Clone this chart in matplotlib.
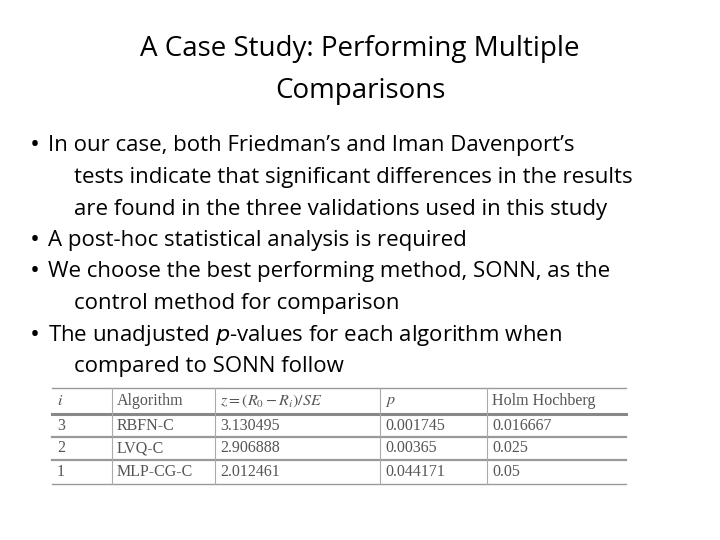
import matplotlib
matplotlib.use("Agg")
import matplotlib.pyplot as plt

title_lines = ["A Case Study: Performing Multiple", "Comparisons"]
bullets = [
    ["In our case, both Friedman\u2019s and Iman Davenport\u2019s",
     "tests indicate that significant differences in the results",
     "are found in the three validations used in this study"],
    ["A post-hoc statistical analysis is required"],
    ["We choose the best performing method, SONN, as the",
     "control method for comparison"],
    ["The unadjusted $\\it{p}$-values for each algorithm when",
     "compared to SONN follow"],
]
headers = ["$i$", "Algorithm", "$z=(R_0-R_i)/SE$", "$p$", "Holm Hochberg"]
col_i = ["3", "2", "1"]
col_alg = ["RBFN-C", "LVQ-C", "MLP-CG-C"]
col_z = ["3.130495", "2.906888", "2.012461"]
col_p = ["0.001745", "0.00365", "0.044171"]
col_holm = ["0.016667", "0.025", "0.05"]

fig = plt.figure(figsize=(7.2, 5.4), dpi=100)
ax = fig.add_axes([0, 0, 1, 1])
ax.set_xlim(0, 720); ax.set_ylim(540, 0); ax.axis("off")

sans = ["Open Sans", "DejaVu Sans"]
for k, t in enumerate(title_lines):
    ax.text(360, 49 + 42 * k, t, ha="center", va="center", fontsize=20, family=sans)

y = 146
for b in bullets:
    ax.text(30, y, "\u2022", ha="left", va="center", fontsize=19, family=sans)
    for j, line in enumerate(b):
        ax.text(48 if j == 0 else 74, y, line, ha="left", va="center", fontsize=16, family=sans)
        y += 31.5

# table
xs = [52, 112, 215, 380, 487, 626]
ys = [388, 414, 437, 460, 484]
gray = "#555555"
ax.plot([xs[0], xs[-1]], [ys[0], ys[0]], color="#999999", lw=1)
ax.plot([xs[0], xs[-1]], [ys[1], ys[1]], color="#888888", lw=2.2)
for yy in ys[2:4]:
    ax.plot([xs[0], xs[-1]], [yy, yy], color="#999999", lw=1.6)
ax.plot([xs[0], xs[-1]], [ys[-1], ys[-1]], color="#999999", lw=1)
for xx in xs[1:-1]:
    ax.plot([xx, xx], [ys[0], ys[-1]], color="#aaaaaa", lw=0.8)
plt.rcParams["mathtext.fontset"] = "stix"
serif = ["Liberation Serif", "DejaVu Serif"]
cols = [col_i, col_alg, col_z, col_p, col_holm]
for c, h in enumerate(headers):
    ax.text(xs[c] + 5, (ys[0] + ys[1]) / 2, h, ha="left", va="center", fontsize=11.5,
            family=serif, color=gray)
    for r, v in enumerate(cols[c]):
        ax.text(xs[c] + 5, (ys[r + 1] + ys[r + 2]) / 2, v, ha="left", va="center",
                fontsize=11.5, family=serif, color=gray)

fig.savefig("out.png", dpi=100)
